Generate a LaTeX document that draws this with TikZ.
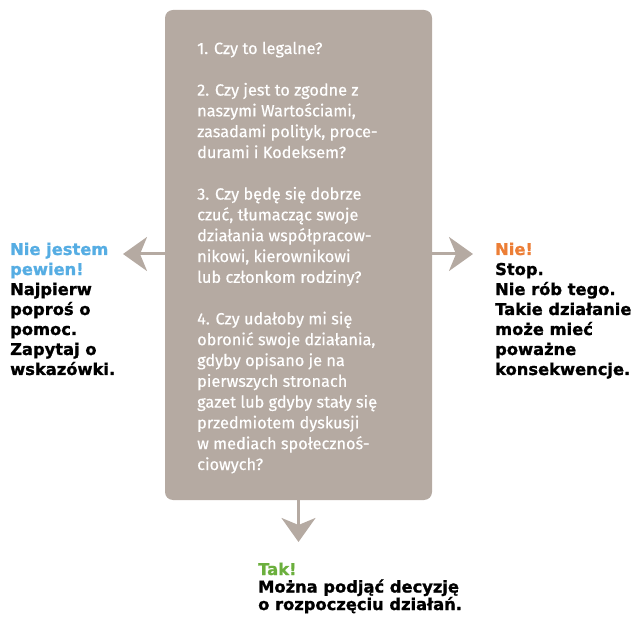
\documentclass[tikz,border=0pt]{standalone}
\usepackage{fontspec}
\setmainfont{Fira Sans}[FakeBold=0.4]
\newfontfamily\heavyfont{DejaVu Sans}[BoldFeatures={FakeBold=1.2}]
\usetikzlibrary{arrows.meta}

\definecolor{boxgray}{HTML}{B5AAA2}
\definecolor{unsureblue}{HTML}{56ADE3}
\definecolor{noorange}{HTML}{EC7E36}
\definecolor{yesgreen}{HTML}{6BAF3D}

\tikzset{
  pointer/.style={draw=boxgray, line width=3pt, -{Stealth[length=24pt,width=34pt,inset=7pt]}},
  answer/.style={anchor=base west, align=left, inner sep=0pt, text=black,
    font=\heavyfont\bfseries\fontsize{16.3}{20}\selectfont}
}

\begin{document}
\begin{tikzpicture}[x=1pt,y=-1pt]
        \useasboundingbox (0,0) rectangle (635,620);

        \coordinate (L) at (123,254);
        \coordinate (R) at (473,254);
        \coordinate (D) at (298.5,542);

        \node[fill=boxgray, rounded corners=8pt, inner sep=0pt,
              minimum width=267pt, minimum height=490pt] (pytania) at (298.5,255) {};

        % baseline of the last line
        \node[anchor=base west, align=left, inner sep=0pt, text=white,
              font=\fontsize{16.3}{20.8}\selectfont] (lista) at (197,470)
        {1. Czy to legalne?\\[20.8pt]
         2. Czy jest to zgodne z\\
         naszymi Wartościami,\\
         zasadami polityk, proce-\\
         durami i Kodeksem?\\[20.8pt]
         3. Czy będę się dobrze\\
         czuć, tłumacząc swoje\\
         działania współpracow-\\
         nikowi, kierownikowi\\
         lub członkom rodziny?\\[20.8pt]
         4. Czy udałoby mi się\\
         obronić swoje działania,\\
         gdyby opisano je na\\
         pierwszych stronach\\
         gazet lub gdyby stały się\\
         przedmiotem dyskusji\\
         w mediach społecznoś-\\
         ciowych?};

        \draw[pointer] (pytania.west |- L) -- (L);
        \draw[pointer] (pytania.east |- R) -- (R);
        \draw[pointer] (pytania.south) -- (D);

        \node[answer] (niewiem) at (10,375)
        {\textcolor{unsureblue}{Nie jestem}\\
         \textcolor{unsureblue}{pewien!}\\
         Najpierw\\ poproś o\\ pomoc.\\ Zapytaj o\\ wskazówki.};
        \node[answer] (nie) at (495,375)
        {\textcolor{noorange}{Nie!}\\
         Stop.\\ Nie rób tego.\\ Takie działanie\\ może mieć\\ poważne\\ konsekwencje.};
        \node[answer, font=\heavyfont\bfseries\fontsize{16.3}{17.5}\selectfont] (tak) at (258,610)
        {\textcolor{yesgreen}{Tak!}\\
         Można podjąć decyzję\\ o rozpoczęciu działań.};
\end{tikzpicture}
\end{document}
